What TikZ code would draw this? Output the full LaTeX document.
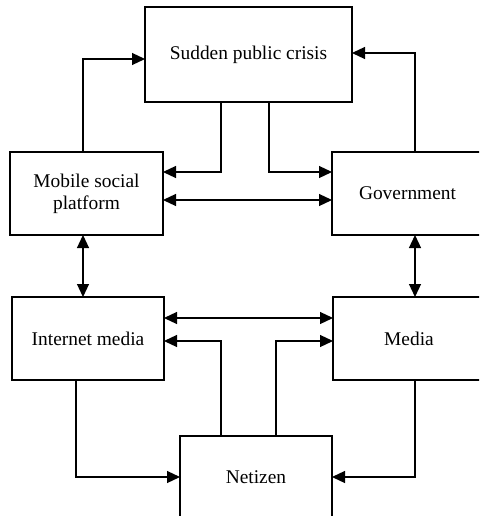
\documentclass[tikz,border=0pt]{standalone}
\usepackage{fontspec}
\setmainfont{Liberation Serif}
\usetikzlibrary{arrows.meta}
\begin{document}
\begin{tikzpicture}[x=1pt,y=-1pt,
  box/.style={draw,line width=1.2pt,rectangle,inner sep=2pt,outer sep=0pt,align=center,
    font=\fontsize{19.4}{22}\selectfont},
  arr/.style={line width=1.2pt,-{Triangle[length=13pt,width=12pt]}},
  dbl/.style={line width=1.2pt,{Triangle[length=13pt,width=12pt]}-{Triangle[length=13pt,width=12pt]}}]
\useasboundingbox (0,0) rectangle (479,516);
\clip (0,0) rectangle (479,516);
% blocks
\node[box,minimum width=207pt,minimum height=95pt] (top) at (248.5,54.5) {Sudden public crisis};
\node[box,minimum width=153pt,minimum height=83pt] (mob) at (86.5,193.5) {Mobile social\\platform};
\node[box,minimum width=151pt,minimum height=83pt] (gov) at (407.5,193.5) {Government};
\node[box,minimum width=152pt,minimum height=83pt] (inet) at (88,338.5) {Internet media};
\node[box,minimum width=152pt,minimum height=83pt] (media) at (409,338.5) {Media};
\node[box,minimum width=152pt,minimum height=82pt] (net) at (256,477) {Netizen};
% links
\draw[arr] (mob.north -| 83,0) |- (top.west |- 0,59);
\draw[arr] (gov.north -| 415,0) |- (top.east |- 0,53);
\draw[arr] (top.south -| 221,0) |- (mob.east |- 0,172);
\draw[arr] (top.south -| 269,0) |- (gov.west |- 0,172);
\draw[dbl] (mob.east |- 0,200) -- (gov.west |- 0,200);
\draw[dbl] (mob.south -| 83,0) -- (inet.north -| 83,0);
\draw[dbl] (gov.south -| 415,0) -- (media.north -| 415,0);
\draw[dbl] (inet.east |- 0,318) -- (media.west |- 0,318);
\draw[arr] (net.north -| 221,0) |- (inet.east |- 0,341);
\draw[arr] (net.north -| 276,0) |- (media.west |- 0,341);
\draw[arr] (inet.south -| 76,0) |- (net.west |- 0,477);
\draw[arr] (media.south -| 415,0) |- (net.east |- 0,477);
\end{tikzpicture}
\end{document}
